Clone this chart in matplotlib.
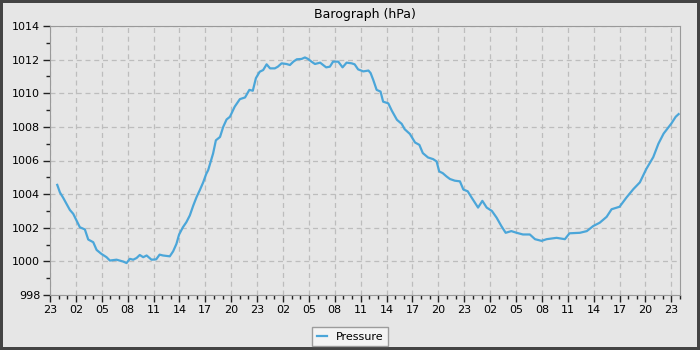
import matplotlib
matplotlib.use("Agg")
import matplotlib.pyplot as plt
import matplotlib.dates as mdates
import pandas as pd

hours = [0.84, 1.15, 1.53, 1.92, 2.3, 2.69, 3.08, 3.46, 4.04, 4.43, 5.01, 5.4,
         5.97, 6.55, 6.94, 7.71, 8.48, 8.87, 9.25, 9.64, 10.03, 10.4, 10.8, 11.2,
         11.76, 12.3, 12.7, 13.1, 13.88, 14.27, 14.65, 14.96, 15.4, 15.8, 16.2,
         16.6, 16.98, 17.37, 17.75, 18.1, 18.33, 18.9, 19.22, 19.7, 20.07, 20.46,
         20.85, 21.4, 22.0, 22.6, 23.1, 23.5, 23.86, 24.3, 24.7, 25.1, 25.5,
         26.05, 26.4, 26.84, 27.4, 27.8, 28.2, 28.6, 29.15, 29.54, 29.9, 30.3,
         30.7, 31.3, 31.65, 32.0, 32.43, 32.8, 33.4, 33.9, 34.37, 34.95, 35.3,
         35.7, 36.3, 36.9, 37.15, 37.45, 37.85, 38.3, 38.6, 39.2, 39.6, 40.2,
         40.75, 41.1, 41.7, 42.3, 42.8, 43.2, 43.8, 44.4, 44.8, 45.1, 45.5,
         45.95, 46.34, 46.9, 47.5, 47.9, 48.4, 48.85, 49.6, 50.1, 50.6, 51.2,
         51.75, 52.3, 52.8, 53.45, 54.07, 54.8, 55.6, 56.2, 56.96, 57.55, 58.7,
         59.66, 60.2, 61.4, 62.2, 62.94, 63.7, 64.5, 65.07, 66.0, 66.8, 67.6,
         68.35, 69.1, 69.9, 70.5, 71.1, 72.0, 72.5, 72.84]
pressure = [1004.55, 1004.1, 1003.78, 1003.42, 1003.06, 1002.83, 1002.43, 1002.03,
            1001.9, 1001.3, 1001.14, 1000.68, 1000.44, 1000.25, 1000.05, 1000.1,
            999.99, 999.9, 1000.15, 1000.1, 1000.2, 1000.38, 1000.25, 1000.35,
            1000.1, 1000.12, 1000.4, 1000.35, 1000.3, 1000.6, 1001.04, 1001.6,
            1002.03, 1002.33, 1002.73, 1003.32, 1003.82, 1004.25, 1004.7, 1005.2,
            1005.43, 1006.42, 1007.2, 1007.4, 1008.0, 1008.44, 1008.6, 1009.2,
            1009.65, 1009.75, 1010.2, 1010.15, 1010.9, 1011.28, 1011.38, 1011.72,
            1011.48, 1011.48, 1011.58, 1011.78, 1011.74, 1011.68, 1011.88, 1012.02,
            1012.04, 1012.13, 1012.04, 1011.88, 1011.74, 1011.82, 1011.68, 1011.54,
            1011.58, 1011.88, 1011.88, 1011.54, 1011.82, 1011.78, 1011.72, 1011.42,
            1011.3, 1011.35, 1011.2, 1010.8, 1010.2, 1010.1, 1009.5, 1009.4,
            1008.97, 1008.42, 1008.18, 1007.86, 1007.58, 1007.07, 1006.93, 1006.44,
            1006.18, 1006.08, 1005.94, 1005.35, 1005.25, 1005.05, 1004.9, 1004.8,
            1004.76, 1004.27, 1004.17, 1003.8, 1003.2, 1003.6, 1003.2, 1003.0,
            1002.6, 1002.1, 1001.7, 1001.8, 1001.7, 1001.6, 1001.6, 1001.32,
            1001.22, 1001.32, 1001.4, 1001.32, 1001.67, 1001.7, 1001.8, 1002.1,
            1002.3, 1002.65, 1003.1, 1003.25, 1003.8, 1004.3, 1004.7, 1005.5,
            1006.2, 1007.0, 1007.6, 1008.2, 1008.6, 1008.76]

start = pd.Timestamp("2024-03-01 23:00")
times = start + pd.to_timedelta(hours, unit="h")

bg = "#e6e6e6"
fig = plt.figure(figsize=(7, 3.5), dpi=100, facecolor=bg, edgecolor="#444444", linewidth=3)
ax = fig.add_axes([50 / 700, 1 - 295 / 350, 630 / 700, 269 / 350])
ax.set_facecolor(bg)

ax.plot(times, pressure, color="#4ba6d9", linewidth=1.6, label="Pressure")

ax.set_xlim(start, start + pd.Timedelta(hours=73))
ax.set_ylim(998, 1014)
ax.set_yticks(range(998, 1015, 2))
ax.set_yticks(range(998, 1015, 1), minor=True)
ax.xaxis.set_major_locator(mdates.HourLocator(byhour=range(2, 24, 3)))
ax.xaxis.set_minor_locator(mdates.HourLocator())
ax.xaxis.set_major_formatter(mdates.DateFormatter("%H"))

ax.grid(True, which="major", color="#bdbdbd", linestyle=(0, (4, 3)), linewidth=0.9)
for s in ax.spines.values():
    s.set_color("#999999")
ax.tick_params(which="major", length=5, width=1, color="#222222", labelsize=8, pad=2)
ax.tick_params(which="minor", length=3, width=1, color="#222222")

ax.set_title("Barograph (hPa)", fontsize=9, pad=6)

leg = ax.legend(loc="lower center", bbox_to_anchor=(0.5, -0.005), bbox_transform=fig.transFigure,
                fontsize=8, frameon=True, fancybox=False, handlelength=0.9, borderpad=0.4)
leg.get_frame().set_facecolor("#f7f7f7")
leg.get_frame().set_edgecolor("#888888")

fig.savefig("out.png", dpi=100, facecolor=bg, edgecolor="#444444")
